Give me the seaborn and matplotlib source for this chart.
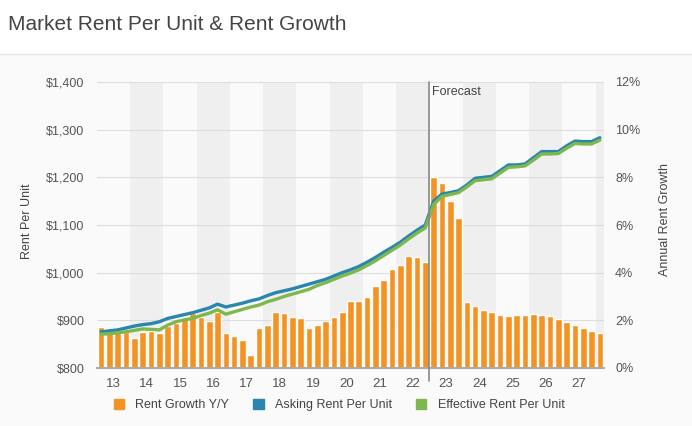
import numpy as np
import pandas as pd
import matplotlib
matplotlib.use('Agg')
import matplotlib.pyplot as plt
import matplotlib.patches as mpatches
import seaborn as sns

# quarterly data, 2013 Q1 .. 2028 Q1 (forecast from 2023 Q1)
years = [str(y) for y in range(13, 28)]
quarters = [f'{y} Q{q}' for y in range(2013, 2028) for q in range(1, 5)] + ['2028 Q1']

rent_growth = [1.73, 1.62, 1.57, 1.52,
               1.26, 1.52, 1.57, 1.45,
               1.76, 1.90, 2.08, 2.29,
               2.13, 1.97, 2.36, 1.45,
               1.36, 1.17, 0.55, 1.66,
               1.80, 2.36, 2.29, 2.13,
               2.11, 1.69, 1.79, 1.99,
               2.13, 2.35, 2.80, 2.82,
               2.96, 3.43, 3.71, 4.15,
               4.31, 4.72, 4.65, 4.43,
               8.03, 7.77, 6.99, 6.31,
               2.77, 2.59, 2.45, 2.33,
               2.23, 2.20, 2.21, 2.24,
               2.26, 2.24, 2.17, 2.04,
               1.92, 1.80, 1.68, 1.56,
               1.47]

asking_rent = [876, 878, 880, 884,
               888, 891, 893, 897,
               904, 908, 912, 916,
               921, 926, 934, 928,
               932, 936, 941, 945,
               952, 958, 962, 966,
               971, 976, 981, 986,
               993, 1000, 1006, 1013,
               1022, 1032, 1043, 1053,
               1064, 1077, 1089, 1100,
               1150, 1165, 1168, 1172,
               1184, 1198, 1200, 1202,
               1214, 1226, 1226, 1228,
               1241, 1254, 1254, 1254,
               1266, 1276, 1275, 1275,
               1283]

effective_rent = [871, 872, 874, 876,
                  879, 882, 881, 880,
                  890, 897, 901, 904,
                  910, 915, 922, 913,
                  918, 923, 928, 932,
                  939, 944, 950, 955,
                  960, 965, 973, 979,
                  986, 993, 999, 1006,
                  1015, 1025, 1036, 1047,
                  1058, 1071, 1083, 1094,
                  1143, 1160, 1164, 1168,
                  1180, 1193, 1195, 1197,
                  1209, 1221, 1222, 1224,
                  1236, 1249, 1249, 1250,
                  1261, 1271, 1270, 1270,
                  1278]

forecast_start = '2023 Q1'

df = pd.DataFrame({'Quarter': quarters, 'Growth': rent_growth,
                   'Asking': asking_rent, 'Effective': effective_rent})
df['pos'] = np.arange(len(df))

sns.set_style('white')
plt.rcParams['font.family'] = ['Liberation Sans', 'DejaVu Sans']

orange = '#F39323'
blue = '#2A86AC'
green = '#7DB84E'
text_c = '#555555'

fig = plt.figure(figsize=(6.92, 4.26), dpi=100, facecolor='#FAFAFA')
# white title strip with separator
fig.patches.append(mpatches.Rectangle((0, 1 - 54 / 426), 1, 54 / 426, transform=fig.transFigure,
                                      facecolor='white', edgecolor='none', zorder=0))
fig.add_artist(plt.Line2D([0, 1], [1 - 54 / 426] * 2, color='#E6E6E6', lw=1))
fig.text(8 / 692, 1 - 24 / 426, 'Market Rent Per Unit & Rent Growth', fontsize=15,
         color='#444444', va='center', ha='left')

ax = fig.add_axes([97 / 692, 1 - 368 / 426, (604 - 97) / 692, (368 - 82) / 426])
ax.set_facecolor('#FAFAFA')

# alternating year bands (even years shaded)
for k in range(1, 16, 2):
    ax.axvspan(4 * k - 0.5, min(4 * k + 3.5, len(df) - 0.5), color='#EFEFEF', zorder=0, lw=0)

sns.barplot(data=df, x='Quarter', y='Growth', color=orange, width=0.8, saturation=1,
            ax=ax, zorder=2)
ax.set_xlim(-0.5, len(df) - 0.5)
ax.set_ylim(0, 12)
ax.set_yticks(range(0, 13, 2))
ax.set_yticklabels([f'{v}%' for v in range(0, 13, 2)])
ax.grid(axis='y', color='#DDDDDD', lw=0.8, zorder=1)
ax.set_axisbelow(True)
ax.set_xlabel('')
ax.set_ylabel('')

# x axis: year boundaries as ticks, year labels centred
ax.set_xticks([4 * k - 0.5 for k in range(16)])
ax.set_xticklabels([])
ax.set_xticks([4 * k + 1.5 for k in range(15)], minor=True)
ax.set_xticklabels(years, minor=True)
ax.tick_params(axis='x', which='major', length=8, width=1, color='#999999')
ax.tick_params(axis='x', which='minor', length=0, pad=7, labelsize=9.5, labelcolor=text_c)

for s in ['top', 'left', 'right']:
    ax.spines[s].set_visible(False)
ax.spines['bottom'].set_color('#AAAAAA')
ax.spines['bottom'].set_linewidth(1.5)

ax2 = ax.twinx()
# growth scale on the right, rent scale on the left
ax.yaxis.tick_right()
ax.tick_params(axis='y', length=0, pad=8, labelsize=9, labelcolor=text_c)

sns.lineplot(data=df, x='pos', y='Asking', color=blue, lw=2.4, ax=ax2)
sns.lineplot(data=df, x='pos', y='Effective', color=green, lw=2.4, ax=ax2)
ax2.set_ylim(800, 1400)
ax2.set_yticks(range(800, 1401, 100))
ax2.set_yticklabels([f'${v:,}' for v in range(800, 1401, 100)])
ax2.yaxis.tick_left()
ax2.tick_params(axis='y', length=0, pad=9, labelsize=9, labelcolor=text_c)
ax2.set_xlim(-0.5, len(df) - 0.5)
ax2.set_xlabel('')
ax2.set_ylabel('')
for s in ax2.spines.values():
    s.set_visible(False)

# forecast marker
fpos = quarters.index(forecast_start) - 0.5
ax2.axvline(fpos, ymin=-0.045, ymax=1, color='#888888', lw=1.2, clip_on=False, zorder=5)
ax2.text(fpos + 0.3, 1378, 'Forecast', fontsize=9, color='#444444', va='center', ha='left')

fig.text(27 / 692, 1 - 221 / 426, 'Rent Per Unit', rotation=90, fontsize=9,
         color='#444444', va='center', ha='center')
fig.text(665 / 692, 1 - 219 / 426, 'Annual Rent Growth', rotation=90, fontsize=9,
         color='#444444', va='center', ha='center')

handles = [mpatches.Patch(color=orange, label='Rent Growth Y/Y'),
           mpatches.Patch(color=blue, label='Asking Rent Per Unit'),
           mpatches.Patch(color=green, label='Effective Rent Per Unit')]
fig.legend(handles=handles, loc='center', bbox_to_anchor=(339 / 692, 1 - 405 / 426), ncol=3,
           frameon=False, fontsize=9, handlelength=0.85, handleheight=0.85,
           handletextpad=0.9, columnspacing=1.9, labelcolor='#444444')

fig.savefig('out.png', dpi=100, facecolor=fig.get_facecolor())
